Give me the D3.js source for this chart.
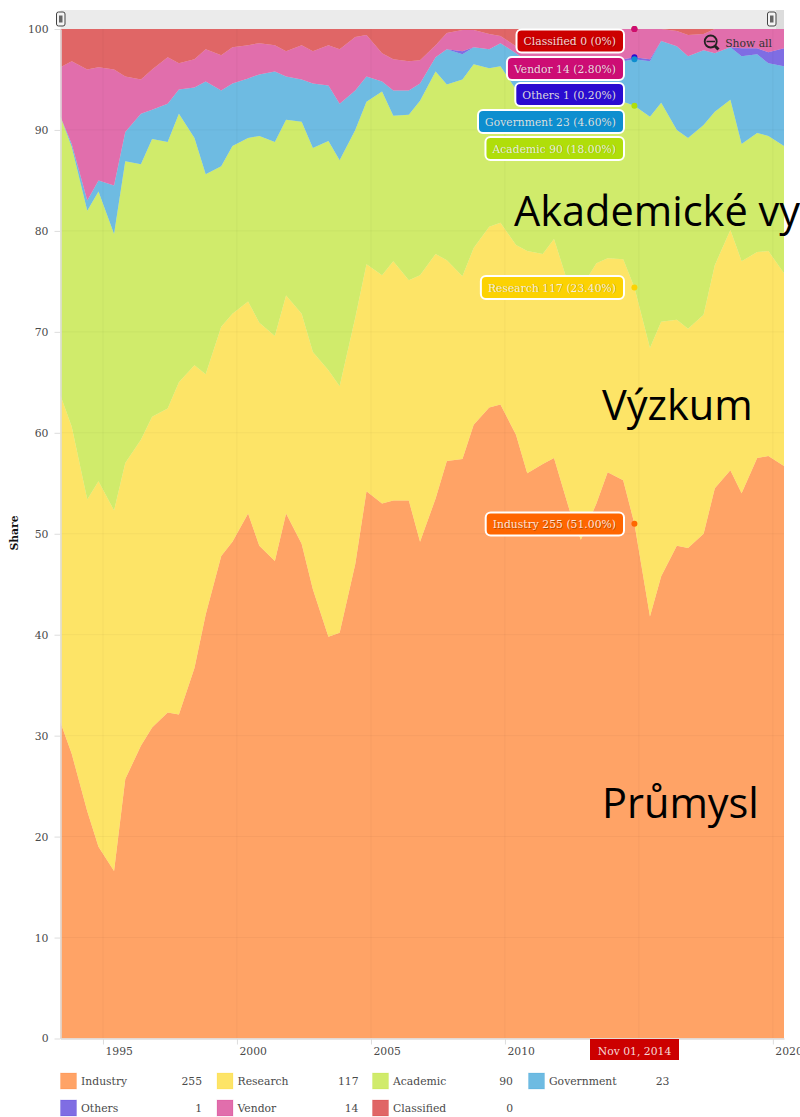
<!DOCTYPE html>
<html><head><meta charset="utf-8">
<script src="https://cdn.jsdelivr.net/npm/d3@7/dist/d3.min.js"></script>
<style>
html,body{margin:0;padding:0;background:#fff;overflow:hidden}
svg{display:block}
text{font-family:"DejaVu Serif",serif;font-size:10.8px;fill:#4a4a4a}
</style></head><body>
<svg id="c" width="800" height="1117"></svg>
<script>
// Observation dates (TOP500 lists, June and November)
const observations = [
"1993-06","1993-11","1994-06","1994-11","1995-06","1995-11","1996-06","1996-11","1997-06","1997-11",
"1998-06","1998-11","1999-06","1999-11","2000-06","2000-11","2001-06","2001-11","2002-06","2002-11",
"2003-06","2003-11","2004-06","2004-11","2005-06","2005-11","2006-06","2006-11","2007-06","2007-11",
"2008-06","2008-11","2009-06","2009-11","2010-06","2010-11","2011-06","2011-11","2012-06","2012-11",
"2013-06","2013-11","2014-06","2014-11","2015-06","2015-11","2016-06","2016-11","2017-06","2017-11",
"2018-06","2018-11","2019-06","2019-11","2020-06"];

// Upper edge of each stacked band, in % share
const industryTop = [31.3,28.2,22.5,19.0,16.6,25.7,29.0,30.8,32.3,32.1,
36.7,42.0,47.8,49.2,52.0,48.8,47.3,52.0,49.0,44.5,
39.8,40.2,47.0,54.2,53.0,53.3,53.3,49.2,53.5,57.2,
57.4,60.8,62.5,62.8,59.8,56.0,56.9,57.5,52.3,49.4,
53.0,56.1,55.3,51.0,41.8,45.8,48.8,48.6,50.0,54.5,
56.3,54.0,57.5,57.7,56.7];
const researchTop = [63.7,60.6,53.4,55.2,52.3,57.0,59.3,61.6,62.4,65.0,
66.7,65.8,70.5,71.8,73.0,70.9,69.6,73.6,71.8,68.0,
66.2,64.6,71.4,76.7,75.6,77.0,75.1,75.6,77.7,77.1,
75.5,78.3,80.4,80.8,78.6,78.0,77.7,79.2,74.3,74.3,
76.8,77.3,77.2,74.4,68.4,71.0,71.2,70.3,71.7,76.6,
80.1,77.0,77.9,78.0,75.8];
const academicTop = [91.3,88.3,82.0,83.9,79.7,86.9,86.6,89.1,88.8,91.6,
89.2,85.6,86.4,88.4,89.2,89.4,88.8,91.0,90.8,88.2,
88.9,87.0,90.0,92.8,93.8,91.4,91.5,92.9,95.8,94.5,
95.0,96.5,96.1,96.3,94.0,93.5,93.5,93.5,93.0,93.0,
92.8,93.0,92.8,92.4,91.3,92.7,90.0,89.2,90.5,91.8,
93.0,88.6,89.7,89.4,88.4];
const governmentTop = [91.3,88.6,83.0,85.0,84.5,89.8,91.6,92.0,92.6,94.0,
94.2,94.8,93.9,94.6,95.1,95.5,95.8,95.3,95.0,94.6,
94.4,92.6,93.9,95.3,94.8,93.9,93.9,94.6,97.2,98.0,
97.5,98.2,98.0,98.6,97.6,96.8,96.3,96.0,96.0,96.2,
96.4,96.6,96.8,97.0,96.8,98.8,98.3,97.3,97.9,97.6,
98.2,97.3,97.5,96.6,96.3];
const othersTop = [91.3,88.6,83.0,85.0,84.5,89.8,91.6,92.0,92.6,94.0,
94.2,94.8,93.9,94.6,95.1,95.5,95.8,95.3,95.0,94.6,
94.4,92.6,93.9,95.3,94.8,93.9,93.9,94.6,97.2,98.0,
97.8,98.2,98.0,98.6,97.6,96.8,96.3,96.0,96.0,96.2,
96.4,96.6,97.0,97.2,97.0,98.8,98.3,97.3,97.9,97.6,
98.2,98.1,98.1,97.7,98.1];
const vendorTop = [96.2,96.8,96.0,96.2,96.0,95.3,95.0,96.0,97.2,96.6,
97.0,98.0,97.4,98.2,98.4,98.6,98.4,97.8,98.4,97.8,
98.4,98.0,99.2,99.4,97.6,97.0,96.8,96.9,98.4,99.6,
99.9,99.9,99.5,99.3,98.3,98.6,99.0,99.3,99.5,99.7,
99.8,99.9,100,100,100,100,99.8,99.4,99.5,100,
100,100,100,100,100];
const classifiedTop = observations.map(() => 100);

const seriesNames = ["Industry","Research","Academic","Government","Others","Vendor","Classified"];
const seriesColors = ["#FF6600","#FCD202","#B0DE09","#0D8ECF","#2A0CD0","#CD0D74","#CC0000"];
const seriesTops = [industryTop,researchTop,academicTop,governmentTop,othersTop,vendorTop,classifiedTop];
const legendCounts = [255,117,90,23,1,14,0];
const balloonShares = ["51.00%","23.40%","18.00%","4.60%","0.20%","2.80%","0%"];
const hoverDate = "2014-11";
const hoverLabel = "Nov 01, 2014";
const yTicks = [0,10,20,30,40,50,60,70,80,90,100];
const xTickYears = [1995,2000,2005,2010,2015,2020];
const xTickHiddenYear = 2015; // its label sits behind the date balloon in the reference
const overlays = ["Akademické vy","Výzkum","Průmysl"];

// layout
const L = 60.5, R = 784, T = 29, B = 1038.5;
const parse = d3.timeParse("%Y-%m");
const dates = observations.map(parse);
const svg = d3.select("#c");
const x = d3.scaleTime().domain([dates[0], dates[dates.length-1]]).range([L,R]);
const y = d3.scaleLinear().domain([0,100]).range([B,T]);

// top scrollbar band
svg.append("rect").attr("x",L).attr("y",10).attr("width",R-L).attr("height",T-10).attr("fill","#ebebeb");
svg.append("rect").attr("x",776).attr("y",10).attr("width",R-776).attr("height",T-10).attr("fill","#dcdcdc");

// stacked areas
seriesTops.forEach((tops,s) => {
  const area = d3.area()
    .x((d,i) => x(dates[i]))
    .y0((d,i) => y(s === 0 ? 0 : seriesTops[s-1][i]))
    .y1(d => y(d));
  svg.append("path").datum(tops).attr("d",area)
    .attr("fill",seriesColors[s]).attr("fill-opacity",0.6);
});

// grid
const xTickDates = xTickYears.map(v => new Date(v,0,1));
svg.append("g").selectAll("line").data(yTicks.slice(1,-1)).join("line")
  .attr("x1",L).attr("x2",R).attr("y1",d=>y(d)).attr("y2",d=>y(d))
  .attr("stroke","#000").attr("stroke-opacity",0.035);
svg.append("g").selectAll("line").data(xTickDates).join("line")
  .attr("x1",d=>x(d)).attr("x2",d=>x(d)).attr("y1",T).attr("y2",B)
  .attr("stroke","#000").attr("stroke-opacity",0.035);

// axes
const yAxis = d3.axisLeft(y).tickValues(yTicks).tickSize(6).tickSizeOuter(0).tickPadding(6);
const gy = svg.append("g").attr("transform",`translate(${L},0)`).call(yAxis);
const xAxis = d3.axisBottom(x).tickValues(xTickDates)
  .tickFormat(d => d.getFullYear() === xTickHiddenYear ? "" : d3.timeFormat("%Y")(d))
  .tickSize(6).tickSizeOuter(0);
const gx = svg.append("g").attr("transform",`translate(0,${B})`).call(xAxis);
gx.selectAll("text").attr("text-anchor","start").attr("x",2).attr("y",9).attr("dy","0.71em");
[gy,gx].forEach(g => {
  g.selectAll("path.domain").attr("stroke","#dddddd").attr("stroke-width",1.5);
  g.selectAll(".tick line").attr("stroke","#dddddd");
  g.selectAll("text").style("font-family",'"DejaVu Serif",serif').style("font-size","10.8px").style("fill","#4a4a4a");
});

svg.append("text").attr("transform","translate(18,533) rotate(-90)")
  .attr("text-anchor","middle").style("font-weight","bold").style("fill","#111").text("Share");

// scrollbar handles
[[56,12],[767,12]].forEach(([hx,hy]) => {
  svg.append("rect").attr("x",hx+.5).attr("y",hy).attr("width",8.5).attr("height",14).attr("rx",2)
    .attr("fill","#f4f4f4").attr("stroke","#444").attr("stroke-width",1);
  svg.append("rect").attr("x",hx+3).attr("y",hy+3.5).attr("width",3.5).attr("height",7).attr("fill","#666");
});

// show all
const zoomIcon = svg.append("g").attr("fill","none").attr("stroke","#222");
zoomIcon.append("circle").attr("cx",710.7).attr("cy",41.5).attr("r",6).attr("stroke-width",1.8);
zoomIcon.append("line").attr("x1",706.5).attr("x2",715).attr("y1",41.5).attr("y2",41.5).attr("stroke-width",1.5);
zoomIcon.append("line").attr("x1",715).attr("y1",46).attr("x2",718.5).attr("y2",49.5).attr("stroke-width",3);
svg.append("text").attr("x",772).attr("y",47).attr("text-anchor","end").style("fill","#333").text("Show all");

// hover dots and balloons
const hoverIndex = observations.indexOf(hoverDate);
const balloonYs = [524,287.5,148.5,121.5,94.5,68.5,41];
const hx = x(dates[hoverIndex]);
seriesNames.map((n,i)=>i).reverse().forEach(s => {
  const top = seriesTops[s][hoverIndex];
  svg.append("circle").attr("cx",hx).attr("cy",y(top)).attr("r",3).attr("fill",seriesColors[s]);
});
const balloonRight = 624;
seriesNames.map((n,i)=>i).reverse().forEach(s => {
  const by = balloonYs[s];
  const g = svg.append("g");
  const rect = g.append("rect");
  const label = `${seriesNames[s]} ${legendCounts[s]} (${balloonShares[s]})`;
  g.append("text").attr("x",balloonRight-7.5).attr("y",by+4.5).attr("text-anchor","end")
    .style("fill","#000").style("fill-opacity",0.3).text(label);
  const t = g.append("text").attr("x",balloonRight-8).attr("y",by+4).attr("text-anchor","end")
    .style("fill","#fff").style("fill-opacity",0.85).text(label);
  const w = t.node().getComputedTextLength();
  rect.attr("x",balloonRight-w-15).attr("y",by-11.5).attr("width",w+15).attr("height",23).attr("rx",5)
    .attr("fill",seriesColors[s]).attr("stroke","#fff").attr("stroke-width",2);
});

// date balloon
svg.append("rect").attr("x",590).attr("y",1039).attr("width",89).attr("height",21).attr("fill","#CC0000");
svg.append("text").attr("x",634.5).attr("y",1055).attr("text-anchor","middle").style("fill","#fff").style("fill-opacity",.85).text(hoverLabel);

// legend
const colX = [60.5,217,372.5,528.5];
const rowY = [1073,1100];
const valueRight = [202,358.5,513,669.5];
seriesNames.forEach((name,s) => {
  const c = s < 4 ? s : s-4, r = s < 4 ? 0 : 1;
  svg.append("rect").attr("x",colX[c]).attr("y",rowY[r]).attr("width",16).attr("height",16)
    .attr("fill",seriesColors[s]).attr("fill-opacity",.6).attr("stroke",seriesColors[s]).attr("stroke-opacity",.15);
  svg.append("text").attr("x",colX[c]+20.5).attr("y",rowY[r]+12).text(name);
  svg.append("text").attr("x",valueRight[c]).attr("y",rowY[r]+12).attr("text-anchor","end").text(legendCounts[s]);
});

// overlaid captions
const capX = [514,602,602], capY = [226,420,818];
overlays.forEach((txt,i) => {
  svg.append("text").attr("x",capX[i]).attr("y",capY[i])
    .style("font-family",'"Open Sans","Noto Sans",sans-serif').style("font-size","41.5px").style("fill","#000").text(txt);
});
</script>
</body></html>
